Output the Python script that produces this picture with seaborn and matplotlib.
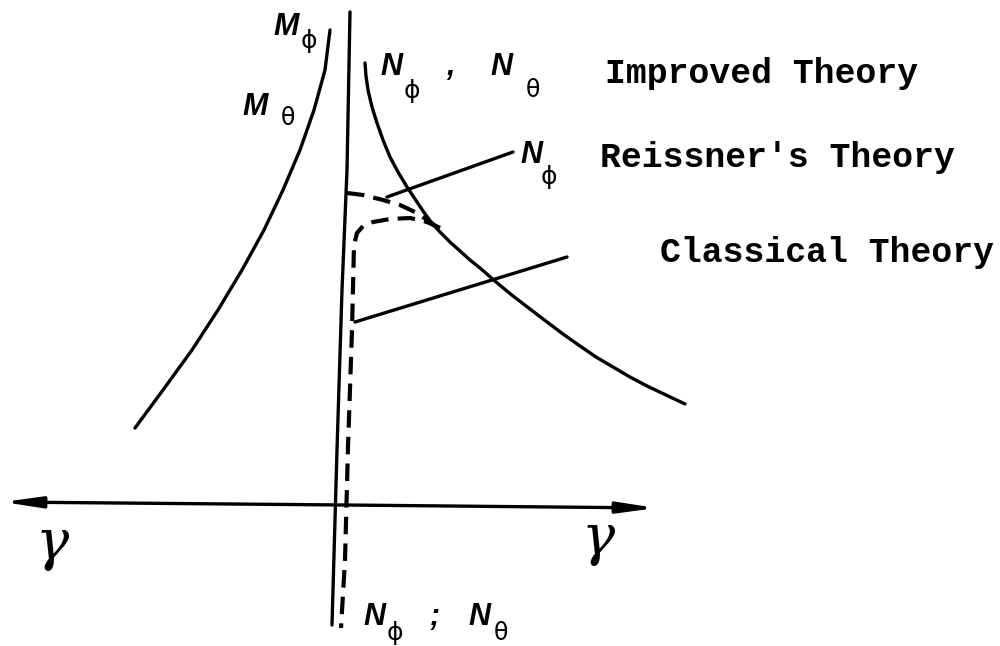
import matplotlib
matplotlib.use("Agg")
import matplotlib.pyplot as plt
import seaborn as sns

# Curve traces in drawing units (x to the right, y downward, 1000 x 646 canvas)
moment_x = [330, 325, 314, 300, 283, 264, 242, 218, 192, 163, 135]
moment_y = [30, 70, 110, 150, 190, 230, 270, 310, 350, 390, 428]

improved_x = [365, 366, 368, 372, 377, 383, 390, 398, 407, 415, 423, 431, 440, 450,
              460, 470, 480, 496, 513, 530, 547, 563, 580, 596, 613, 630, 647, 666, 685]
improved_y = [63, 76, 90, 107, 123, 140, 157, 172, 187, 199, 211, 222, 232, 242,
              251, 260, 268, 282, 296, 309, 322, 334, 346, 357, 367, 377, 386, 395, 404]

reissner_x = [347, 363, 383, 400, 417, 430, 437]
reissner_y = [193, 195, 200, 205, 213, 222, 227]

classical_x = [440, 427, 410, 390, 373, 363, 357, 354, 352, 348, 345, 341]
classical_y = [228, 222, 218, 219, 222, 226, 233, 245, 330, 447, 560, 628]

vertical_x = [350, 347, 342, 337, 332]
vertical_y = [12, 170, 290, 450, 625]

# Leader lines to the theory labels
reissner_leader_x = [387, 513]
reissner_leader_y = [197, 152]
classical_leader_x = [355, 567]
classical_leader_y = [322, 257]

# Horizontal gamma axis: centre and the two arrow tips
axis_centre = (345, 505)
axis_left_tip = (3, 502)
axis_right_tip = (656, 508)

theory_labels = ["Improved Theory", "Reissner's Theory", "Classical Theory"]
theory_pos = [(605, 83), (600, 167), (660, 262)]

sns.set_theme(style="white")
plt.rcParams["font.family"] = ["Liberation Sans", "DejaVu Sans"]
plt.rcParams["text.color"] = "black"

fig = plt.figure(figsize=(10, 6.46), dpi=100)
ax = fig.add_axes([0, 0, 1, 1])
ax.set_xlim(0, 1000)
ax.set_ylim(646, 0)
ax.axis("off")

solid = dict(color="black", lw=2.4, sort=False, estimator=None, ax=ax, legend=False)
dashed = dict(color="black", lw=3.0, sort=False, estimator=None, ax=ax, legend=False,
              linestyle=(0, (4.2, 2.2)))

sns.lineplot(x=moment_x, y=moment_y, **solid)
sns.lineplot(x=improved_x, y=improved_y, **solid)
sns.lineplot(x=vertical_x, y=vertical_y, **solid)
sns.lineplot(x=reissner_leader_x, y=reissner_leader_y, **solid)
sns.lineplot(x=classical_leader_x, y=classical_leader_y, **solid)
sns.lineplot(x=reissner_x, y=reissner_y, **dashed)
sns.lineplot(x=classical_x, y=classical_y, **dashed)

arrow = dict(arrowstyle="-|>,head_length=1.5,head_width=0.22", lw=2.4,
             color="black", mutation_scale=15, shrinkA=0, shrinkB=0)
ax.annotate("", xy=axis_left_tip, xytext=axis_centre, arrowprops=arrow)
ax.annotate("", xy=axis_right_tip, xytext=axis_centre, arrowprops=arrow)

# Symbol labels
big = dict(fontsize=22, fontweight="bold", fontstyle="italic", va="baseline",
           ha="left", color="black")
phi = dict(fontsize=18, va="baseline", ha="left", color="black", family=["DejaVu Sans"])
theta = dict(fontsize=17, va="baseline", ha="left", color="black", family=["DejaVu Sans"])

ax.text(273, 35, "M", **big)
ax.text(301, 48, "ϕ", **phi)
ax.text(242, 115, "M", **big)
ax.text(281, 125, "θ", **theta)

ax.text(380, 75, "N", **big)
ax.text(404, 98, "ϕ", **phi)
ax.text(446, 75, ",", **big)
ax.text(490, 75, "N", **big)
ax.text(526, 97, "θ", **theta)

ax.text(520, 163, "N", **big)
ax.text(541, 184, "ϕ", **phi)

ax.text(363, 625, "N", **big)
ax.text(387, 640, "ϕ", **phi)
ax.text(430, 625, ";", **big)
ax.text(468, 625, "N", **big)
ax.text(494, 640, "θ", **theta)

gamma = dict(fontsize=40, fontstyle="italic", family=["DejaVu Serif"],
             va="baseline", ha="left", color="black")
ax.text(36, 559, "γ", **gamma)
ax.text(582, 554, "γ", **gamma)

for label, (tx, ty) in zip(theory_labels, theory_pos):
    ax.text(tx, ty, label, fontsize=25, family=["Liberation Mono"],
            fontweight="bold", va="baseline", ha="left", color="black")

fig.savefig("out.png", dpi=100, facecolor="white")
